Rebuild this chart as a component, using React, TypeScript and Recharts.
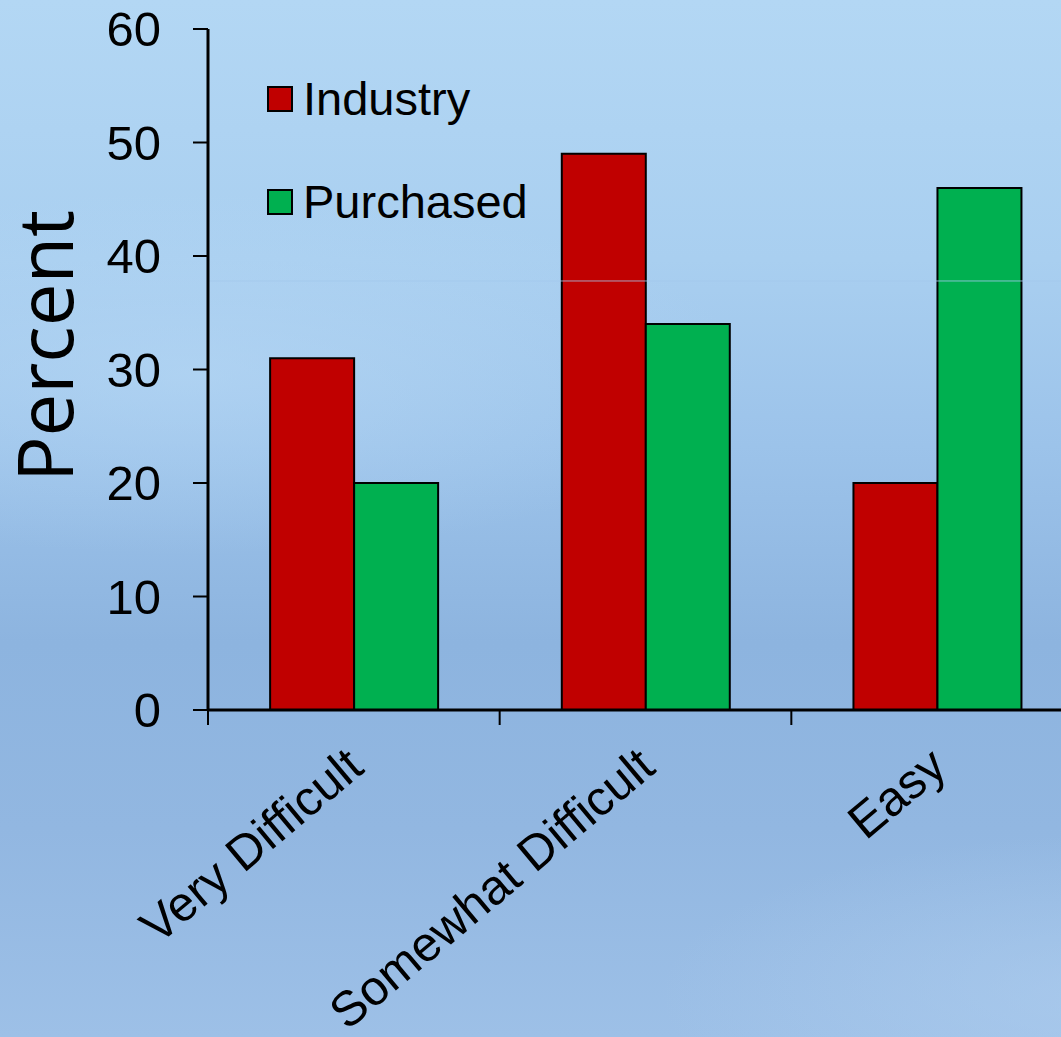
import React from "react";
import { BarChart, Bar, XAxis, YAxis, Legend, ReferenceLine } from "recharts";

const categories = ["Very Difficult", "Somewhat Difficult", "Easy"];
const industry = [31, 49, 20];
const purchased = [20, 34, 46];
const yTicks = [0, 10, 20, 30, 40, 50, 60];
const seriesNames = ["Industry", "Purchased"];
const seriesColors = ["#c00000", "#00b050"];
const glintLevel = 37.8;

const data = categories.map((name, i) => ({
  name,
  Industry: industry[i],
  Purchased: purchased[i],
}));

const FONT = "'Liberation Sans', Arial, sans-serif";

// category ticks sit on the band edges, labels are tilted under the band centre
const CategoryTick = (props: any) => {
  const { x, y, payload } = props;
  const half = payload?.offset ?? 146;
  const ax = x + 12;
  const ay = y + 46;
  return (
    <g>
      <line x1={x - half} x2={x - half} y1={y - 15} y2={y} stroke="#000" strokeWidth={2} />
      <text
        x={ax}
        y={ay}
        transform={`rotate(-40 ${ax} ${ay})`}
        textAnchor="end"
        fontSize={49}
        fontFamily={FONT}
        fill="#000"
      >
        {payload.value}
      </text>
    </g>
  );
};

const PercentLabel = () => (
  <text
    x={73}
    y={346}
    transform="rotate(-90 73 346)"
    textAnchor="middle"
    fontSize={76}
    fontFamily="'Open Sans', sans-serif"
    fill="#000"
  >
    Percent
  </text>
);

const LegendBox = () => (
  <div style={{ fontFamily: FONT, fontSize: 47, color: "#000" }}>
    {seriesNames.map((s, i) => (
      <div
        key={s}
        style={{ display: "flex", alignItems: "center", height: 50, lineHeight: "50px", marginBottom: i === 0 ? 53 : 0 }}
      >
        <span
          style={{
            display: "inline-block",
            width: 26,
            height: 26,
            boxSizing: "border-box",
            border: "2px solid #000",
            background: seriesColors[i],
            marginRight: 10,
          }}
        />
        <span>{s}</span>
      </div>
    ))}
  </div>
);

export default function App() {
  return (
    <div
      style={{
        position: "fixed",
        left: 0,
        top: 0,
        width: 1061,
        height: 1037,
        overflow: "hidden",
        background: [
          "radial-gradient(ellipse 800px 260px at 18% 36%, rgba(185,218,246,0.55), rgba(185,218,246,0) 70%)",
          "radial-gradient(ellipse 650px 230px at 105% 96%, rgba(178,208,240,0.55), rgba(178,208,240,0) 70%)",
          "linear-gradient(180deg, #b3d7f4 0%, #a9cff0 25%, #9cc3ea 43%, #8db4df 62%, #92b7e1 80%, #9dc0e7 100%)",
        ].join(","),
      }}
    >
      <BarChart
        width={1083}
        height={1037}
        data={data}
        margin={{ top: 29, right: 0, bottom: 0, left: 0 }}
        barCategoryGap="21.3%"
        barGap={0}
      >
        <XAxis
          dataKey="name"
          height={327}
          tickSize={15}
          tickMargin={0}
          tickLine={false}
          axisLine={{ stroke: "#000", strokeWidth: 3 }}
          tick={<CategoryTick />}
          interval={0}
        />
        <YAxis
          width={208}
          domain={[0, 60]}
          ticks={yTicks}
          tickSize={15}
          tickMargin={32}
          axisLine={{ stroke: "#000", strokeWidth: 3 }}
          tickLine={{ stroke: "#000", strokeWidth: 2 }}
          tick={{ fontSize: 49, fontFamily: FONT, fill: "#000" }}
          label={<PercentLabel />}
        />
        <Legend
          layout="vertical"
          align="center"
          verticalAlign="middle"
          wrapperStyle={{ left: 267, top: 74, width: "auto" }}
          content={<LegendBox />}
        />
        {seriesNames.map((s, i) => (
          <Bar key={s} dataKey={s} fill={seriesColors[i]} stroke="#000" strokeWidth={2} isAnimationActive={false} />
        ))}
        <ReferenceLine y={glintLevel} stroke="#a2c8ec" strokeOpacity={0.8} strokeWidth={1} />
      </BarChart>
    </div>
  );
}
